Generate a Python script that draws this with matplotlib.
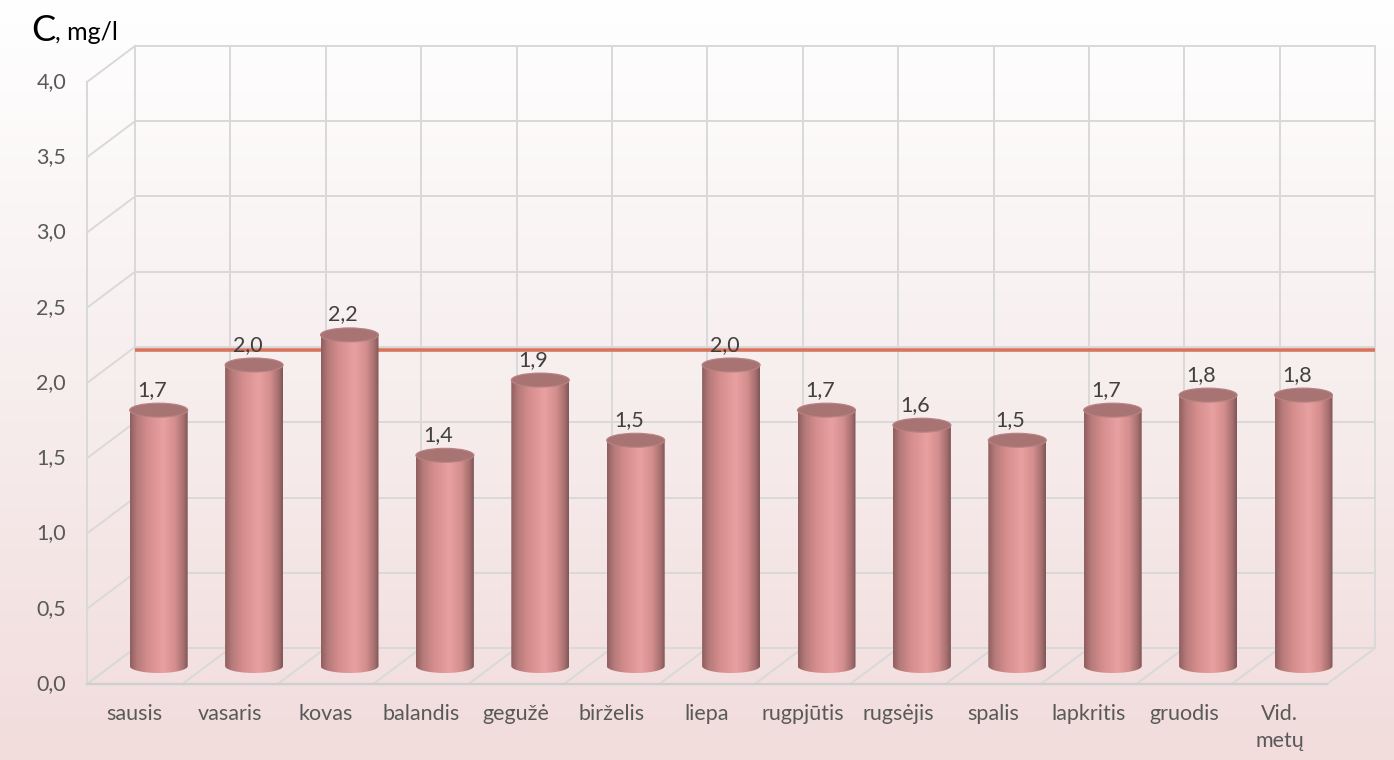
import numpy as np
import matplotlib
matplotlib.use("Agg")
import matplotlib.pyplot as plt
from matplotlib.colors import LinearSegmentedColormap
from matplotlib.patches import PathPatch, Ellipse
from matplotlib.path import Path

plt.rcParams['font.family'] = ['Lato', 'DejaVu Sans']

# ---- data ----
categories = ["sausis", "vasaris", "kovas", "balandis", "gegužė", "birželis", "liepa",
              "rugpjūtis", "rugsėjis", "spalis", "lapkritis", "gruodis", "Vid.\nmetų"]
values = [1.7, 2.0, 2.2, 1.4, 1.9, 1.5, 2.0, 1.7, 1.6, 1.5, 1.7, 1.8, 1.8]
value_labels = ["1,7", "2,0", "2,2", "1,4", "1,9", "1,5", "2,0", "1,7", "1,6", "1,5", "1,7", "1,8", "1,8"]
limit_value = 1.98
y_ticks = [0.0, 0.5, 1.0, 1.5, 2.0, 2.5, 3.0, 3.5, 4.0]
y_tick_labels = ["0,0", "0,5", "1,0", "1,5", "2,0", "2,5", "3,0", "3,5", "4,0"]

# ---- layout ----
W, H = 1394, 760
fig = plt.figure(figsize=(W / 100, H / 100), dpi=100)
ax = fig.add_axes([0, 0, 1, 1])
ax.axis('off')

px_per_cat = 95.4
px_per_unit = 150.5
x0_px, y0_px = 87, 684  # front-left corner of floor (pixels from top-left)
xlim = ((0 - x0_px) / px_per_cat - 0.5, (W - x0_px) / px_per_cat - 0.5)
ylim = (-(H - y0_px) / px_per_unit, y0_px / px_per_unit)
dx = 48 / px_per_cat   # depth shift
dy = 36 / px_per_unit
n = len(categories)
ymax = 4.0

# background gradient (pink at bottom -> white at top)
bg = LinearSegmentedColormap.from_list("bg", ["#f2dcdc", "#f7eeee", "#ffffff"])
grad = np.linspace(0, 1, 256).reshape(-1, 1)
ax.imshow(grad, extent=[xlim[0], xlim[1], ylim[0], ylim[1]], cmap=bg, aspect='auto',
          zorder=0, origin='lower')

gc = "#d9d9d9"
glw = 1.4
left, right = -0.5, n - 0.5
# back wall, side wall, floor
for t in y_ticks:
    ax.plot([left + dx, right + dx], [t + dy, t + dy], color=gc, lw=glw, zorder=1)
    ax.plot([left, left + dx], [t, t + dy], color=gc, lw=glw, zorder=1)
for k in range(n + 1):
    xb = left + k + dx
    ax.plot([xb, xb], [dy, ymax + dy], color=gc, lw=glw, zorder=1)
    ax.plot([left + k, xb], [0, dy], color=gc, lw=glw, zorder=1)
ax.plot([left, left], [0, ymax], color=gc, lw=glw, zorder=1)
ax.plot([left, right], [0, 0], color="#cfcfcf", lw=glw + 0.3, zorder=1)

# limit line on back wall
ax.plot([left + dx, right + dx], [limit_value + dy, limit_value + dy],
        color="#d8745c", lw=2.6, zorder=2, solid_capstyle='butt')

# cylinders
cyl = LinearSegmentedColormap.from_list("cyl", [
    (0.0, "#8f5e5e"), (0.12, "#b67a7a"), (0.3, "#d48c8c"), (0.58, "#e9a0a0"),
    (0.78, "#d48e8e"), (0.92, "#a97070"), (1.0, "#7f5656")])
bw = 58 / px_per_cat
a = bw / 2
b = 7 / px_per_unit
theta = np.linspace(np.pi, 2 * np.pi, 60)
hgrad = np.linspace(0, 1, 256).reshape(1, -1)
for i, (v, lab) in enumerate(zip(values, value_labels)):
    xc = i + dx / 2
    yb = dy / 2
    yt = v + dy / 2
    verts = [(xc - a, yt)]
    verts += [(xc + a * np.cos(t), yb + b * np.sin(t)) for t in theta]
    verts += [(xc + a, yt), (xc - a, yt)]
    codes = [Path.MOVETO] + [Path.LINETO] * (len(verts) - 2) + [Path.CLOSEPOLY]
    patch = PathPatch(Path(verts, codes), facecolor='none', edgecolor='none', zorder=3)
    ax.add_patch(patch)
    im = ax.imshow(hgrad, extent=[xc - a, xc + a, yb - b, yt], cmap=cyl, aspect='auto',
                   zorder=3, origin='lower')
    im.set_clip_path(patch)
    top = Ellipse((xc, yt), 2 * a, 2 * b, facecolor="#a87473", edgecolor="#b98382",
                  lw=0.8, zorder=4)
    ax.add_patch(top)
    ax.text(xc - 0.07, yt + 0.135, lab, ha='center', va='center', fontsize=15.5,
            color="#404040", zorder=5)

# tick labels
for t, tl in zip(y_ticks, y_tick_labels):
    ax.text((66 - x0_px) / px_per_cat - 0.5, t, tl, ha='right', va='center',
            fontsize=15.5, color="#595959")
for i, c in enumerate(categories):
    ax.text(i, -0.135, c, ha='center', va='top', fontsize=15.5, color="#595959",
            linespacing=1.4)

# title
t1 = fig.text(31 / W, 1 - 41 / H, "C", fontsize=26, color="black", va='baseline')
ax.annotate(", mg/l", xy=(1, 0), xycoords=t1, va='bottom', ha='left', fontsize=18,
            color="black", xytext=(0, 2), textcoords='offset points',
            annotation_clip=False)

ax.set_xlim(*xlim)
ax.set_ylim(*ylim)
fig.savefig("out.png", dpi=100)
